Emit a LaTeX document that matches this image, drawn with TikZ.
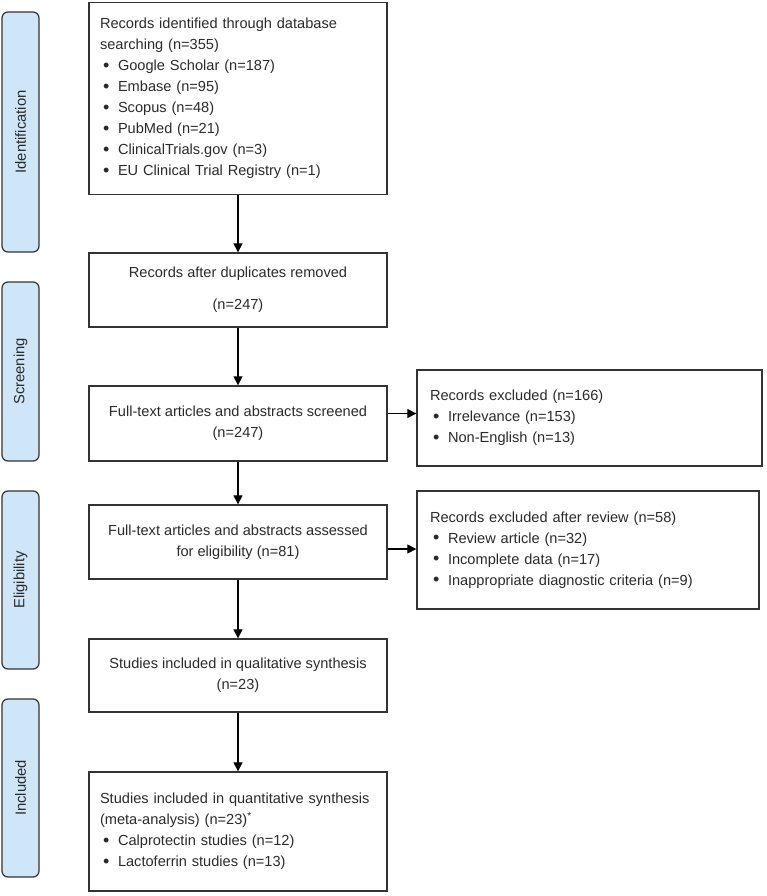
\documentclass[tikz,border=0pt]{standalone}
\usepackage{fontspec}
\setmainfont{Liberation Sans}
\usetikzlibrary{arrows.meta}
\definecolor{sidefill}{HTML}{CFE5F8}
\definecolor{edgec}{HTML}{333333}
\definecolor{txtc}{HTML}{2A2A2A}
\newcommand{\bl}{\hspace*{3pt}\makebox[15pt][l]{\raisebox{-0.3pt}{\fontsize{18}{21}\selectfont •}}}
\begin{document}
\begin{tikzpicture}[x=1pt,y=-1pt,
  box/.style={draw=edgec, line width=1.3pt, inner sep=0pt, text=txtc,
    font=\fontsize{14.6}{21}\selectfont},
  sidebox/.style={draw=edgec, fill=sidefill, rounded corners=6pt, line width=1.2pt,
    inner sep=0pt, rotate=90, minimum height=37pt, text=txtc,
    font=\fontsize{14.8}{18}\selectfont},
  arr/.style={-{Triangle[length=9pt,width=9pt]}, line width=1.1pt, draw=black}]
\useasboundingbox (0,0) rectangle (767,896);

% side labels
\node[sidebox, minimum width=240pt] (sid) at (20.5,132) {Identification};
\node[sidebox, minimum width=179pt] (ssc) at (20.5,371.5) {Screening};
\node[sidebox, minimum width=178pt] (sel) at (20.5,580) {Eligibility};
\node[sidebox, minimum width=178pt] (sin) at (20.5,788) {Included};

% main boxes
\node[box, minimum width=298pt, minimum height=192pt, align=left, text width=276pt] (b1) at (238,98.5)
  {Records identified through database\\searching (n=355)\\
   \bl Google Scholar (n=187)\\
   \bl Embase (n=95)\\
   \bl Scopus (n=48)\\
   \bl PubMed (n=21)\\
   \bl ClinicalTrials.gov (n=3)\\
   \bl EU Clinical Trial Registry (n=1)};
\node[box, minimum width=298pt, minimum height=74pt, align=center] (b2) at (238,290)
  {Records after duplicates removed\\[11pt](n=247)};
\node[box, minimum width=298pt, minimum height=75pt, align=center] (b3) at (238,423.5)
  {Full-text articles and abstracts screened\\(n=247)};
\node[box, minimum width=298pt, minimum height=74pt, align=center] (b4) at (238,542)
  {Full-text articles and abstracts assessed\\for eligibility (n=81)};
\node[box, minimum width=298pt, minimum height=73pt, align=center] (b5) at (238,675.5)
  {Studies included in qualitative synthesis\\(n=23)};
\node[box, minimum width=298pt, minimum height=119pt, align=left, text width=276pt] (b6) at (238,831.5)
  {Studies included in quantitative synthesis\\(meta-analysis) (n=23)\textsuperscript{*}\\
   \bl Calprotectin studies (n=12)\\
   \bl Lactoferrin studies (n=13)};

% exclusion boxes
\node[box, minimum width=345pt, minimum height=96pt, align=left, text width=319pt] (e1) at (589.5,418)
  {Records excluded (n=166)\\
   \bl Irrelevance (n=153)\\
   \bl Non-English (n=13)};
\node[box, minimum width=342pt, minimum height=118pt, align=left, text width=316pt] (e2) at (588,550)
  {Records excluded after review (n=58)\\
   \bl Review article (n=32)\\
   \bl Incomplete data (n=17)\\
   \bl Inappropriate diagnostic criteria (n=9)};

% connectors
\draw[arr] (b1) -- (b2);
\draw[arr] (b2) -- (b3);
\draw[arr] (b3) -- (b4);
\draw[arr] (b4) -- (b5);
\draw[arr] (b5) -- (b6);
\draw[arr] ([yshift=10pt]b3.east) -- ([yshift=10pt]b3.east -| e1.west);
\draw[arr] ([yshift=-7pt]b4.east) -- ([yshift=-7pt]b4.east -| e2.west);
\end{tikzpicture}
\end{document}
